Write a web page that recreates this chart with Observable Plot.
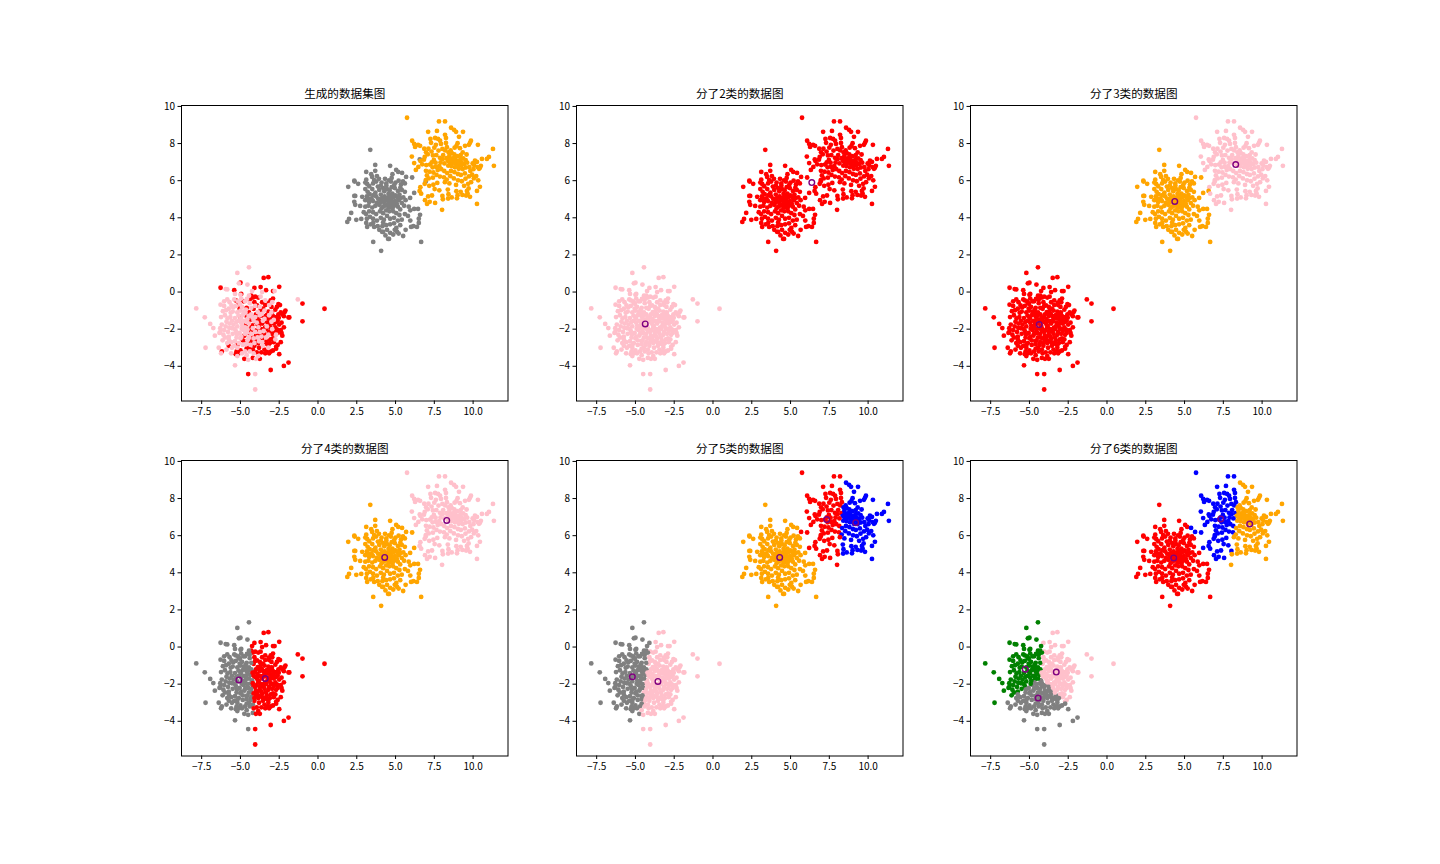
<!DOCTYPE html>
<html><head><meta charset="utf-8">
<script src="https://cdn.jsdelivr.net/npm/d3@7"></script>
<script src="https://cdn.jsdelivr.net/npm/@observablehq/plot@0.6"></script>
<style>html,body{margin:0;background:#fff;}#fig{position:relative;width:1440px;height:864px;overflow:hidden}#fig>div,#fig svg{position:absolute}</style>
</head><body><div id="fig"></div>
<script>
const blobOrange=[[5.74,9.39],[7.8,9.19],[8.19,9.19],[8.58,8.85],[8.77,8.74],[8.9,8.63],[9.35,8.63],[7.1,8.63],[7.67,8.68],[8.19,8.47],[8.25,8.3],[9.09,8.36],[7.25,8.25],[7.55,8.3],[7.74,8.25],[7.87,8.15],[6.07,8.15],[6.2,7.98],[6.26,7.82],[6.45,7.93],[6.58,7.88],[7.29,8.04],[7.6,7.93],[7.93,7.98],[8.25,8.03],[8.31,7.8],[8.2,7.63],[8.42,7.52],[9.0,8.02],[8.93,7.87],[8.81,7.78],[9.15,7.75],[9.86,8.15],[9.8,8.04],[9.73,7.93],[9.48,7.88],[10.31,7.93],[11.28,7.71],[11.34,6.8],[11.02,7.28],[10.89,7.17],[10.57,7.17],[10.5,6.8],[10.44,6.69],[10.38,6.64],[10.25,7.01],[10.12,7.08],[9.97,6.93],[6.05,7.3],[6.85,7.72],[6.97,7.53],[7.08,7.42],[6.88,7.28],[7.41,7.36],[7.77,7.62],[7.63,7.38],[6.83,7.13],[6.61,7.06],[6.2,6.95],[6.47,6.74],[6.31,6.58],[6.72,6.88],[6.96,6.53],[7.22,6.87],[7.47,7.12],[7.58,6.97],[7.86,7.23],[8.07,7.38],[8.28,7.22],[8.47,7.33],[8.63,7.48],[8.79,7.41],[8.97,7.32],[9.2,7.38],[9.36,7.2],[9.52,7.11],[8.56,7.18],[8.71,7.11],[8.86,7.15],[9.05,7.04],[9.26,6.98],[8.36,7.07],[8.52,6.92],[8.68,6.97],[8.91,6.88],[9.12,6.83],[9.41,6.9],[9.62,6.97],[9.76,6.73],[9.53,6.71],[9.33,6.63],[9.08,6.64],[8.83,6.72],[8.62,6.78],[8.4,6.81],[8.15,6.93],[7.9,6.98],[7.6,6.75],[7.39,6.72],[7.19,6.48],[7.44,6.44],[7.72,6.57],[7.95,6.62],[8.14,6.52],[8.33,6.41],[8.57,6.52],[8.8,6.46],[9.02,6.36],[9.21,6.31],[9.47,6.39],[9.82,6.52],[10.02,6.62],[7.02,6.28],[6.95,6.03],[7.14,6.12],[7.41,6.16],[7.64,6.31],[7.86,6.22],[8.12,6.18],[8.3,6.06],[8.53,6.24],[8.76,6.12],[9.03,6.02],[9.27,5.97],[9.51,6.11],[9.73,6.23],[9.94,6.32],[10.05,6.13],[10.2,6.25],[10.33,6.02],[9.87,5.92],[9.68,5.83],[9.42,5.72],[8.9,5.77],[8.47,5.85],[8.18,5.92],[7.69,5.88],[7.44,5.78],[7.17,5.72],[6.88,5.83],[6.6,5.65],[6.55,5.45],[6.65,5.3],[7.52,5.55],[7.82,5.48],[8.37,5.52],[8.92,5.43],[9.2,5.4],[9.31,5.23],[9.6,5.45],[9.65,5.3],[9.71,5.58],[10.44,5.67],[10.25,5.45],[9.8,5.13],[9.55,5.2],[7.35,5.2],[7.1,5.15],[8.41,5.27],[8.02,5.18],[8.62,5.1],[8.96,5.05],[9.0,5.22],[8.39,5.04],[8.05,5.0],[10.25,4.75],[8.0,4.43],[7.03,4.75],[7.2,4.86],[7.55,4.8],[6.9,4.95],[8.55,7.63],[8.02,7.71],[7.32,7.57],[7.12,7.72],[7.5,7.78],[9.33,7.52],[9.58,7.41],[8.74,7.22],[8.6,7.05],[8.95,7.05],[9.18,7.16],[8.8,6.97],[9.02,6.77],[9.24,6.82],[8.47,7.12],[7.82,6.78],[6.98,6.84],[7.33,6.98],[8.03,7.16],[10.07,6.83],[10.28,6.73]];
const blobGrey=[[3.37,7.66],[6.56,7.14],[6.95,5.95],[3.69,6.85],[4.65,6.8],[3.69,6.53],[3.11,6.47],[5.04,6.58],[5.17,6.47],[5.42,6.42],[4.8,6.35],[4.75,6.15],[5.68,6.2],[6.07,6.17],[3.43,6.35],[3.49,6.2],[3.8,6.25],[3.93,6.1],[4.32,6.1],[2.34,6.0],[2.36,5.95],[1.95,5.67],[2.59,5.83],[3.11,6.05],[3.05,5.9],[3.17,5.82],[3.3,5.7],[3.55,5.85],[3.75,5.95],[4.1,5.9],[4.4,5.85],[4.7,5.95],[5.0,5.9],[5.2,6.0],[5.35,5.8],[5.6,5.85],[3.05,5.55],[3.2,5.4],[3.5,5.55],[3.7,5.35],[3.95,5.5],[4.2,5.6],[4.45,5.55],[4.75,5.65],[4.95,5.6],[5.15,5.45],[5.4,5.5],[5.6,5.4],[2.4,5.18],[2.34,5.18],[2.85,5.13],[6.2,5.34],[5.94,5.07],[3.15,5.15],[3.45,5.05],[3.75,5.15],[4.05,5.25],[4.3,5.15],[4.55,5.3],[4.8,5.3],[5.0,5.2],[5.25,5.25],[5.5,5.1],[5.65,4.95],[3.05,4.95],[3.3,4.85],[3.55,4.9],[3.8,4.8],[4.05,4.95],[4.25,4.85],[4.5,5.0],[4.7,4.95],[4.95,4.9],[5.2,4.95],[5.4,4.8],[5.55,4.65],[2.34,4.86],[2.4,4.7],[2.72,4.64],[3.05,4.6],[3.25,4.65],[3.5,4.55],[3.7,4.65],[3.95,4.7],[4.2,4.6],[4.45,4.7],[4.65,4.6],[4.9,4.65],[5.15,4.6],[5.3,4.45],[6.2,4.48],[6.45,4.48],[5.85,4.6],[5.95,4.4],[2.14,4.26],[2.95,4.3],[3.1,4.2],[3.3,4.35],[3.55,4.3],[3.75,4.2],[4.0,4.35],[4.2,4.25],[4.4,4.4],[4.6,4.35],[4.85,4.35],[5.05,4.25],[5.25,4.15],[5.6,4.2],[5.8,4.1],[6.58,4.16],[6.5,3.95],[2.0,3.94],[1.89,3.78],[2.47,3.89],[2.79,3.94],[3.15,3.95],[3.35,4.05],[3.55,3.95],[3.8,3.85],[4.05,4.0],[4.25,3.9],[4.45,4.1],[4.65,3.95],[4.9,4.0],[5.15,3.85],[5.4,3.9],[5.95,3.85],[6.5,3.72],[3.11,3.72],[3.17,3.51],[3.4,3.65],[3.62,3.51],[3.56,3.72],[3.85,3.55],[4.14,3.24],[4.15,3.55],[4.2,3.75],[4.4,3.6],[4.65,3.65],[4.9,3.7],[5.05,3.45],[5.3,3.6],[5.65,3.35],[6.0,3.51],[6.38,3.51],[6.15,3.55],[4.2,3.24],[4.45,3.35],[4.65,3.19],[5.1,3.24],[4.95,3.35],[5.49,3.02],[3.56,2.7],[4.07,2.22],[4.52,2.86],[4.58,2.86],[6.65,2.7],[4.85,3.1],[4.35,3.05],[5.2,3.15],[3.95,3.35],[4.3,4.65],[4.55,4.55],[4.5,4.9],[4.75,4.75],[4.1,4.5],[4.8,4.5],[4.62,5.47],[4.87,5.12],[4.27,5.43],[4.14,5.07],[4.58,5.12],[5.12,5.08],[5.31,5.62],[3.86,5.68],[3.58,5.22],[3.33,5.27],[4.41,5.72],[4.92,5.78],[4.05,5.73],[3.62,6.03],[4.58,6.02],[5.48,5.96],[3.26,5.02],[3.88,5.02],[4.68,5.16],[4.36,4.98],[5.33,5.07],[4.86,4.82],[5.08,4.75],[4.62,4.78],[4.03,4.82]];
const blobRed=[[-6.28,0.23],[-5.0,0.5],[-3.5,0.76],[-3.2,0.8],[-2.5,0.28],[-4.1,0.22],[-3.7,0.27],[-5.4,0.1],[-3.35,0.1],[-2.9,0.05],[-4.95,-0.1],[-4.3,-0.2],[-1.0,-0.62],[0.42,-0.9],[-1.0,-1.58],[-1.85,-1.37],[-2.1,-1.0],[-2.15,-1.08],[-2.55,-0.65],[-2.45,-0.7],[-2.65,-0.8],[-2.75,-0.95],[-2.9,-0.35],[-3.05,-0.45],[-3.6,-0.55],[-3.85,-0.3],[-4.05,-0.25],[-4.2,-0.3],[-4.4,-0.4],[-3.4,-0.7],[-4.8,-0.5],[-5.3,-0.45],[-5.05,-0.9],[-4.15,-0.9],[-3.7,-1.0],[-3.2,-1.05],[-2.55,-1.2],[-2.3,-1.2],[-2.4,-1.1],[-2.2,-1.3],[-2.7,-1.35],[-3.1,-1.45],[-3.5,-1.3],[-3.9,-1.45],[-4.35,-1.5],[-4.6,-1.3],[-2.6,-1.55],[-2.85,-1.7],[-3.25,-1.65],[-3.6,-1.7],[-3.9,-1.75],[-4.25,-1.8],[-2.5,-1.75],[-2.75,-1.9],[-3.05,-1.95],[-3.35,-2.0],[-3.65,-2.0],[-3.95,-2.05],[-4.2,-2.1],[-2.4,-2.05],[-2.35,-2.2],[-2.3,-2.35],[-2.6,-2.2],[-2.85,-2.1],[-3.15,-2.15],[-3.45,-2.25],[-3.75,-2.3],[-4.0,-2.35],[-4.3,-2.45],[-2.4,-2.7],[-2.6,-2.85],[-2.7,-2.95],[-2.85,-2.7],[-3.05,-2.55],[-3.3,-2.6],[-3.1,-2.75],[-3.5,-2.75],[-3.3,-2.8],[-3.2,-2.85],[-4.0,-2.6],[-4.3,-2.7],[-4.6,-2.65],[-2.5,-3.35],[-2.7,-3.05],[-2.9,-3.15],[-3.05,-3.2],[-3.25,-3.2],[-3.45,-3.1],[-3.65,-3.25],[-3.15,-3.3],[-3.4,-3.3],[-4.2,-3.1],[-4.45,-3.0],[-4.6,-3.05],[-5.0,-3.15],[-5.25,-3.2],[-5.3,-3.35],[-5.1,-3.3],[-5.2,-2.85],[-5.75,-2.9],[-6.2,-3.2],[-4.2,-3.55],[-4.75,-3.6],[-3.75,-3.6],[-1.9,-3.8],[-2.2,-3.98],[-3.05,-4.2],[-4.5,-4.42],[-1.9,-1.37],[-2.2,-1.9],[-2.35,-1.65],[-5.0,-1.35],[-5.1,-0.6],[-4.0,-1.2],[-3.0,-0.8],[-4.1,-0.55],[-3.3,-1.25],[-2.9,-1.3],[-4.45,-1.1],[-4.5,-2.2],[-4.75,-2.35],[-4.1,-2.9],[-3.85,-2.75],[-3.6,-2.5],[-3.95,-3.25],[-2.9,-2.5],[-3.2,-1.8],[-2.95,-2.25],[-3.75,-1.55],[-3.55,-0.9],[-4.65,-1.75],[-4.85,-2.6],[-4.6,-0.85],[-3.8,-3.0],[-3.48,-1.57],[-3.08,-1.72],[-3.72,-1.28],[-4.04,-1.62],[-2.97,-1.12],[-3.82,-1.83],[-4.37,-1.97],[-3.27,-1.42],[-2.72,-1.62],[-3.42,-1.92],[-2.53,-1.38],[-3.93,-0.72],[-3.17,-0.58],[-2.63,-2.03],[-3.56,-2.12],[-4.12,-1.36]];
const blobPink=[[-4.45,1.33],[-5.2,1.03],[-5.1,0.47],[-4.55,0.4],[-5.95,0.16],[-5.85,0.14],[-1.3,-0.4],[-7.85,-0.88],[-7.3,-1.36],[-6.95,-1.72],[-6.75,-1.94],[-6.65,-2.35],[-7.25,-3.0],[-6.4,-3.0],[-6.25,-3.3],[-6.3,-1.95],[-6.3,-2.15],[-6.1,-2.3],[-5.35,-3.95],[-4.05,-4.42],[-4.05,-5.25],[-4.5,-3.65],[-4.0,-3.6],[-5.2,-3.45],[-5.6,-3.3],[-5.9,-3.1],[-6.05,-0.75],[-6.05,-0.5],[-5.85,-0.4],[-5.7,-0.55],[-5.4,-0.4],[-5.3,-0.75],[-4.95,-0.35],[-4.7,-0.5],[-4.4,-0.6],[-3.7,-0.25],[-3.4,-0.45],[-3.15,-0.7],[-6.25,-1.35],[-6.0,-1.25],[-5.75,-0.9],[-5.5,-1.05],[-5.2,-1.1],[-4.9,-0.8],[-4.65,-0.95],[-4.3,-0.85],[-4.05,-0.75],[-3.75,-0.8],[-3.45,-1.0],[-3.0,-1.1],[-5.9,-1.6],[-5.65,-1.35],[-5.35,-1.4],[-5.1,-1.55],[-4.85,-1.25],[-4.55,-1.45],[-4.3,-1.2],[-4.05,-1.35],[-3.75,-1.25],[-3.45,-1.45],[-3.15,-1.25],[-2.85,-1.5],[-6.2,-1.75],[-5.95,-1.85],[-5.7,-1.7],[-5.45,-1.75],[-5.2,-1.85],[-4.95,-1.65],[-4.7,-1.9],[-4.45,-1.7],[-4.15,-1.55],[-3.85,-1.9],[-3.55,-1.55],[-3.3,-1.85],[-3.0,-1.6],[-6.05,-2.05],[-5.8,-2.15],[-5.55,-1.95],[-5.3,-2.1],[-5.05,-2.2],[-4.8,-2.05],[-4.55,-2.0],[-4.3,-2.25],[-4.05,-2.15],[-3.75,-2.15],[-3.5,-2.1],[-3.2,-2.3],[-2.95,-2.0],[-2.7,-2.3],[-6.0,-2.45],[-5.75,-2.4],[-5.5,-2.25],[-5.25,-2.45],[-5.0,-2.5],[-4.7,-2.25],[-4.45,-2.45],[-4.15,-2.5],[-3.9,-2.45],[-3.65,-2.4],[-3.35,-2.45],[-2.75,-2.55],[-5.85,-2.75],[-5.6,-2.7],[-5.35,-2.65],[-5.1,-2.75],[-4.85,-2.85],[-4.6,-2.8],[-4.35,-2.85],[-4.1,-2.75],[-3.8,-2.65],[-3.55,-2.9],[-5.55,-3.0],[-5.2,-3.0],[-4.9,-3.3],[-4.7,-3.2],[-4.4,-3.2],[-4.15,-3.3],[-3.85,-3.45],[-4.6,-3.4],[-4.45,-0.2],[-5.0,-0.15],[-5.35,-0.1],[-4.25,0.05],[-5.55,-1.55],[-5.0,-1.0],[-4.75,-1.55],[-3.95,-1.65],[-3.6,-2.7],[-2.95,-0.55],[-3.6,0.0],[-2.8,0.05],[-6.15,-2.6],[-6.35,-2.2],[-4.95,-2.4],[-4.2,-1.95],[-4.55,-2.6],[-5.4,-2.9],[-3.2,-3.0],[-5.15,-0.5],[-4.8,-1.05],[-5.75,-2.55],[-5.47,-0.83],[-5.12,-1.27],[-4.68,-1.12],[-5.27,-1.62],[-4.97,-1.43],[-5.63,-1.12],[-5.83,-1.42],[-4.47,-1.28],[-5.72,-1.93],[-5.38,-1.98],[-4.88,-1.82],[-5.57,-0.72],[-5.03,-0.63],[-4.62,-1.62],[-4.22,-1.38],[-3.88,-1.08],[-3.62,-1.18],[-6.13,-1.03],[-5.93,-0.98],[-6.28,-0.68],[-4.58,-0.37],[-5.22,-2.28],[-4.57,-2.18],[-4.92,-1.98]];

const centroidsByPanel=[
  null,
  [[-4.37,-1.72],[6.37,5.9]],
  [[-4.37,-1.75],[4.37,4.88],[8.3,6.87]],
  [[-5.1,-1.77],[-3.4,-1.7],[4.3,4.83],[8.3,6.82]],
  [[-5.2,-1.6],[-3.55,-1.85],[4.3,4.83],[7.33,6.87],[9.2,6.7]],
  [[-5.27,-1.19],[-3.27,-1.35],[-4.44,-2.75],[4.3,4.8],[7.33,6.9],[9.2,6.63]]
];
const colorsByPanel=[
  ["gray","orange","red","pink"],
  ["pink","red"],
  ["red","orange","pink"],
  ["gray","red","orange","pink"],
  ["gray","pink","orange","red","blue"],
  ["green","pink","gray","red","blue","orange"]
];
const titles=["生成的数据集图","分了2类的数据图","分了3类的数据图","分了4类的数据图","分了5类的数据图","分了6类的数据图"];
const xTicks=[-7.5,-5,-2.5,0,2.5,5,7.5,10];
const yTicks=[-4,-2,0,2,4,6,8,10];
const xDomain=[-8.8,12.25], yDomain=[-5.87,10.05];
const panelLeft=[181,575.5,970], panelTop=[105,460];

const allPoints=[blobRed,blobPink,blobGrey,blobOrange].flat();
function nearest(p,cs){let b=0,bd=1e9;cs.forEach((c,i)=>{const d=(p[0]-c[0])**2+(p[1]-c[1])**2;if(d<bd){bd=d;b=i}});return b}
const font='"Noto Sans CJK SC"';
titles.forEach((title,i)=>{
  let pts, cents=centroidsByPanel[i];
  if(i===0){
    pts=[...blobGrey.map(p=>[...p,"gray"]),...blobOrange.map(p=>[...p,"orange"]),...blobRed.map(p=>[...p,"red"]),...blobPink.map(p=>[...p,"pink"])];
  } else {
    pts=allPoints.map(p=>[...p,colorsByPanel[i][nearest(p,cents)]]);
  }
  const ml=32,mr=12,mt=26,mb=30,w=326.5,h=295.5;
  const chart=Plot.plot({
    width:w+ml+mr,height:h+mt+mb,marginLeft:ml,marginRight:mr,marginTop:mt,marginBottom:mb,
    style:{fontFamily:font,fontSize:"10px",color:"#000",background:"transparent",overflow:"visible"},
    x:{domain:xDomain,axis:null},y:{domain:yDomain,axis:null},
    marks:[
      Plot.dot(pts,{x:d=>d[0],y:d=>d[1],fill:d=>d[2],r:2.4}),
      cents?Plot.dot(cents,{x:d=>d[0],y:d=>d[1],r:2.8,stroke:"purple",strokeWidth:1.4,fill:"none"}):null,
      Plot.frame({stroke:"black",strokeWidth:1}),
      Plot.axisX({ticks:xTicks,tickFormat:".1f",tickSize:3.5,tickPadding:3,fontSize:10,label:null}),
      Plot.axisY({ticks:yTicks,tickFormat:"d",tickSize:3.5,tickPadding:3,fontSize:10,label:null}),
      Plot.text([title],{frameAnchor:"top",dy:-11,fontSize:11.6,fill:"black",lineAnchor:"middle"})
    ]
  });
  const col=i%3,row=Math.floor(i/3);
  chart.style.left=(panelLeft[col]-ml)+"px";
  chart.style.top=(panelTop[row]-mt)+"px";
  document.getElementById("fig").appendChild(chart);
});
</script></body></html>
